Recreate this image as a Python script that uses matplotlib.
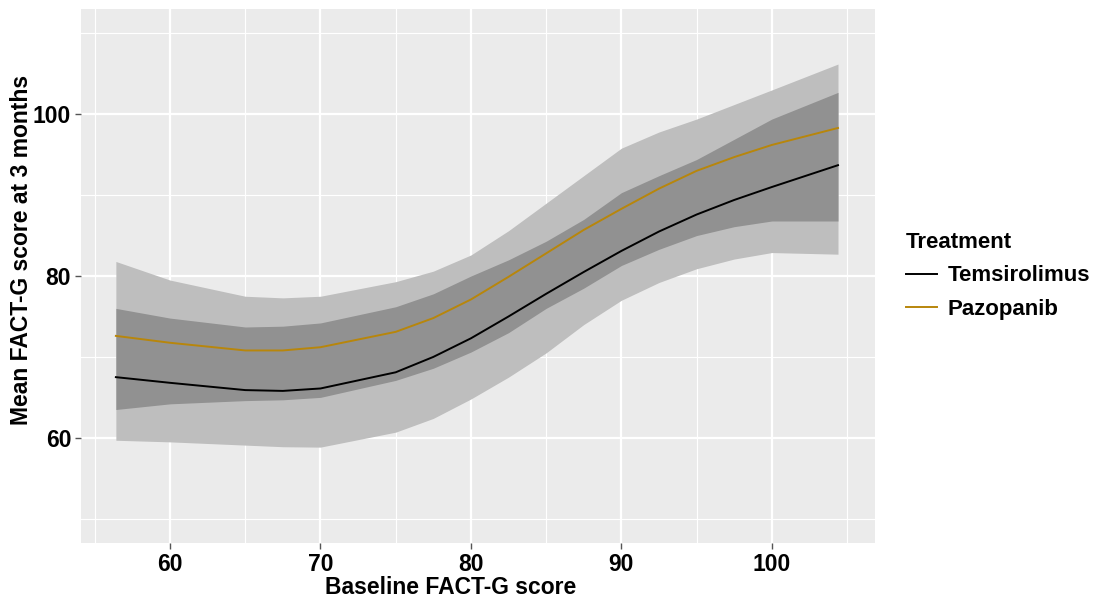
import numpy as np
import matplotlib
matplotlib.use("Agg")
import matplotlib.pyplot as plt

# values
baseline = [56.4, 60, 65, 67.5, 70, 75, 77.5, 80, 82.5, 85, 87.5, 90, 92.5, 95, 97.5, 100, 104.4]

tem_mean = [67.5, 66.8, 65.9, 65.8, 66.1, 68.1, 70.0, 72.3, 75.0, 77.8, 80.5, 83.1, 85.5, 87.6, 89.4, 91.0, 93.7]
tem_low = [59.7, 59.5, 59.1, 58.9, 58.85, 60.7, 62.4, 64.8, 67.5, 70.5, 74.0, 77.0, 79.2, 80.9, 82.1, 82.9, 82.7]
tem_high = [76.0, 74.8, 73.7, 73.8, 74.2, 76.2, 77.8, 80.0, 82.0, 84.3, 87.0, 90.3, 92.4, 94.4, 96.9, 99.4, 102.7]

paz_mean = [72.6, 71.75, 70.8, 70.8, 71.2, 73.1, 74.8, 77.1, 79.9, 82.8, 85.7, 88.3, 90.8, 93.0, 94.7, 96.2, 98.3]
paz_low = [63.5, 64.2, 64.6, 64.7, 65.0, 67.1, 68.6, 70.6, 73.0, 76.0, 78.5, 81.3, 83.3, 85.0, 86.1, 86.8, 86.8]
paz_high = [81.8, 79.5, 77.5, 77.3, 77.5, 79.3, 80.6, 82.6, 85.6, 89.0, 92.4, 95.8, 97.8, 99.4, 101.2, 103.0, 106.2]

x_ticks = [60, 70, 80, 90, 100]
y_ticks = [60, 80, 100]

plt.rcParams["font.family"] = ["Liberation Sans", "DejaVu Sans"]
plt.rcParams["font.weight"] = "bold"

fig = plt.figure(figsize=(11.03, 6.03), dpi=100)
ax = fig.add_axes([0.0734, 0.0995, 0.7199, 0.8855])
ax.set_facecolor("#ebebeb")

# single coverage (light) and overlap of the two ribbons (dark)
lows = np.array([tem_low, paz_low])
highs = np.array([tem_high, paz_high])
ax.fill_between(baseline, lows.min(axis=0), highs.max(axis=0), color="#bebebe", lw=0, zorder=2)
ax.fill_between(baseline, lows.max(axis=0), highs.min(axis=0), color="#919191", lw=0, zorder=3)

ax.plot(baseline, tem_mean, color="black", lw=1.4, label="Temsirolimus", zorder=4)
ax.plot(baseline, paz_mean, color="#b8860b", lw=1.4, label="Pazopanib", zorder=4)

ax.set_xlim(54.08, 106.86)
ax.set_ylim(47, 113)
ax.set_xticks(x_ticks)
ax.set_yticks(y_ticks)
ax.set_xticks([55, 65, 75, 85, 95, 105], minor=True)
ax.set_yticks([50, 70, 90, 110], minor=True)
ax.grid(which="major", color="white", lw=1.6, zorder=1)
ax.grid(which="minor", color="white", lw=0.8, zorder=1)
ax.set_axisbelow(True)
for s in ax.spines.values():
    s.set_visible(False)
ax.tick_params(which="major", length=4, width=1, color="#555555", labelsize=16.5, pad=3)
ax.tick_params(which="minor", length=0)
for lab in ax.get_xticklabels() + ax.get_yticklabels():
    lab.set_fontweight("bold")

ax.set_xlabel("Baseline FACT-G score", fontsize=16.5, fontweight="bold")
ax.set_ylabel("Mean FACT-G score at 3 months", fontsize=16.5, fontweight="bold")
ax.xaxis.set_label_coords(0.465, -0.062)
ax.yaxis.set_label_coords(-0.060, 0.549)

leg = fig.legend(loc="upper left", bbox_to_anchor=(0.803, 0.648), frameon=False,
                 title="Treatment", fontsize=16, title_fontsize=16,
                 handlelength=1.4, handletextpad=0.5, labelspacing=0.55)
leg.get_title().set_fontweight("bold")
leg._legend_box.align = "left"

fig.savefig("out.png", dpi=100)
